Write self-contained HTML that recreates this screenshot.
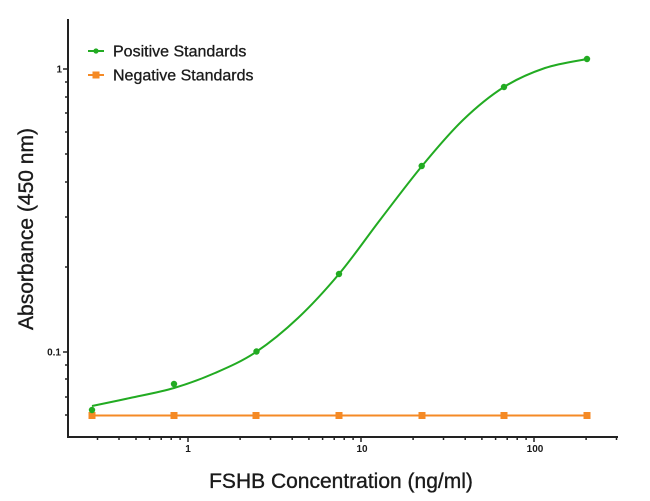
<!DOCTYPE html>
<html><head><meta charset="utf-8">
<style>
html,body{margin:0;padding:0;background:#fff;}
svg{display:block;}
text{font-family:"Liberation Sans",Arial,sans-serif;fill:#1a1a1a;}
</style></head>
<body>
<svg width="650" height="501" viewBox="0 0 650 501" xmlns="http://www.w3.org/2000/svg">
<rect width="650" height="501" fill="#fff"/>
<!-- axes -->
<g stroke="#222" stroke-width="2" fill="none">
<line x1="68" y1="19" x2="68" y2="438"/>
<line x1="67" y1="437" x2="618" y2="437"/>
</g>
<!-- y ticks -->
<g stroke="#222" stroke-width="1.5">
<line x1="63" y1="69" x2="68" y2="69"/>
<line x1="63" y1="352" x2="68" y2="352"/>
<line x1="65" y1="82" x2="68" y2="82"/>
<line x1="65" y1="97" x2="68" y2="97"/>
<line x1="65" y1="113" x2="68" y2="113"/>
<line x1="65" y1="132" x2="68" y2="132"/>
<line x1="65" y1="154" x2="68" y2="154"/>
<line x1="65" y1="182" x2="68" y2="182"/>
<line x1="65" y1="217" x2="68" y2="217"/>
<line x1="65" y1="267" x2="68" y2="267"/>
<line x1="65" y1="365" x2="68" y2="365"/>
<line x1="65" y1="379" x2="68" y2="379"/>
<line x1="65" y1="397" x2="68" y2="397"/>
<line x1="65" y1="415" x2="68" y2="415"/>
</g>
<!-- x ticks -->
<g stroke="#222" stroke-width="1.5">
<line x1="188" y1="437" x2="188" y2="442"/>
<line x1="361" y1="437" x2="361" y2="442"/>
<line x1="534" y1="437" x2="534" y2="442"/>
<line x1="97.5" y1="437" x2="97.5" y2="440"/>
<line x1="119" y1="437" x2="119" y2="440"/>
<line x1="136" y1="437" x2="136" y2="440"/>
<line x1="149.6" y1="437" x2="149.6" y2="440"/>
<line x1="161.2" y1="437" x2="161.2" y2="440"/>
<line x1="171.2" y1="437" x2="171.2" y2="440"/>
<line x1="180.1" y1="437" x2="180.1" y2="440"/>
<line x1="240.1" y1="437" x2="240.1" y2="440"/>
<line x1="270.5" y1="437" x2="270.5" y2="440"/>
<line x1="292.2" y1="437" x2="292.2" y2="440"/>
<line x1="308.9" y1="437" x2="308.9" y2="440"/>
<line x1="322.6" y1="437" x2="322.6" y2="440"/>
<line x1="334.2" y1="437" x2="334.2" y2="440"/>
<line x1="344.2" y1="437" x2="344.2" y2="440"/>
<line x1="353.1" y1="437" x2="353.1" y2="440"/>
<line x1="413.1" y1="437" x2="413.1" y2="440"/>
<line x1="443.5" y1="437" x2="443.5" y2="440"/>
<line x1="465.2" y1="437" x2="465.2" y2="440"/>
<line x1="481.9" y1="437" x2="481.9" y2="440"/>
<line x1="495.6" y1="437" x2="495.6" y2="440"/>
<line x1="507.2" y1="437" x2="507.2" y2="440"/>
<line x1="517.2" y1="437" x2="517.2" y2="440"/>
<line x1="526.1" y1="437" x2="526.1" y2="440"/>
<line x1="586.1" y1="437" x2="586.1" y2="440"/>
<line x1="616.5" y1="437" x2="616.5" y2="440"/>
</g>
<!-- tick labels -->
<g font-size="10" font-weight="bold">
<text x="62" y="72.5" text-anchor="end">1</text>
<text x="61" y="355.5" text-anchor="end">0.1</text>
<text x="188" y="452" text-anchor="middle">1</text>
<text x="362" y="452" text-anchor="middle">10</text>
<text x="535" y="452" text-anchor="middle">100</text>
</g>
<!-- axis titles -->
<text x="341" y="488" font-size="21" text-anchor="middle" style="stroke:#1a1a1a;stroke-width:0.35">FSHB Concentration (ng/ml)</text>
<text transform="translate(33,229) rotate(-90)" font-size="21" text-anchor="middle" style="stroke:#1a1a1a;stroke-width:0.35">Absorbance (450 nm)</text>
<!-- negative series -->
<line x1="92" y1="415.5" x2="587" y2="415.5" stroke="#f58a25" stroke-width="2"/>
<g fill="#f58a25">
<rect x="88.5" y="412" width="7" height="7"/>
<rect x="170.5" y="412" width="7" height="7"/>
<rect x="252.5" y="412" width="7" height="7"/>
<rect x="335.5" y="412" width="7" height="7"/>
<rect x="418.5" y="412" width="7" height="7"/>
<rect x="500.5" y="412" width="7" height="7"/>
<rect x="583.5" y="412" width="7" height="7"/>
</g>
<!-- positive curve -->
<path fill="none" stroke="#22ab22" stroke-width="2" d="M92,406 C98.3,404.7 116.3,401 130,398 C143.7,395 159.8,392.2 174,388 C188.2,383.8 201.3,379 215,373 C228.7,367 242.2,361.2 256,352 C269.8,342.8 284.2,331 298,318 C311.8,305 325.3,290.3 339,274 C352.7,257.7 366.2,238 380,220 C393.8,202 408.2,182.7 422,166 C435.8,149.3 449.3,133.2 463,120 C476.7,106.8 490.3,95.7 504,87 C517.7,78.3 531.2,72.7 545,68 C558.8,63.3 580,60.5 587,59"/>
<g fill="#22ab22">
<circle cx="92" cy="410" r="3.2"/>
<circle cx="174" cy="384" r="3.2"/>
<circle cx="256.5" cy="351.5" r="3.2"/>
<circle cx="339" cy="274" r="3.2"/>
<circle cx="421.7" cy="166" r="3.2"/>
<circle cx="504" cy="87" r="3.2"/>
<circle cx="587" cy="59" r="3.2"/>
</g>
<!-- legend -->
<line x1="88" y1="51" x2="104" y2="51" stroke="#22ab22" stroke-width="2"/>
<circle cx="96" cy="51" r="2.6" fill="#22ab22"/>
<line x1="88" y1="75" x2="104" y2="75" stroke="#f58a25" stroke-width="2"/>
<rect x="92.5" y="71.5" width="7" height="7" fill="#f58a25"/>
<text x="113" y="56.5" font-size="16" style="stroke:#1a1a1a;stroke-width:0.3">Positive Standards</text>
<text x="113" y="80.5" font-size="16" style="stroke:#1a1a1a;stroke-width:0.3">Negative Standards</text>
</svg>
</body></html>
